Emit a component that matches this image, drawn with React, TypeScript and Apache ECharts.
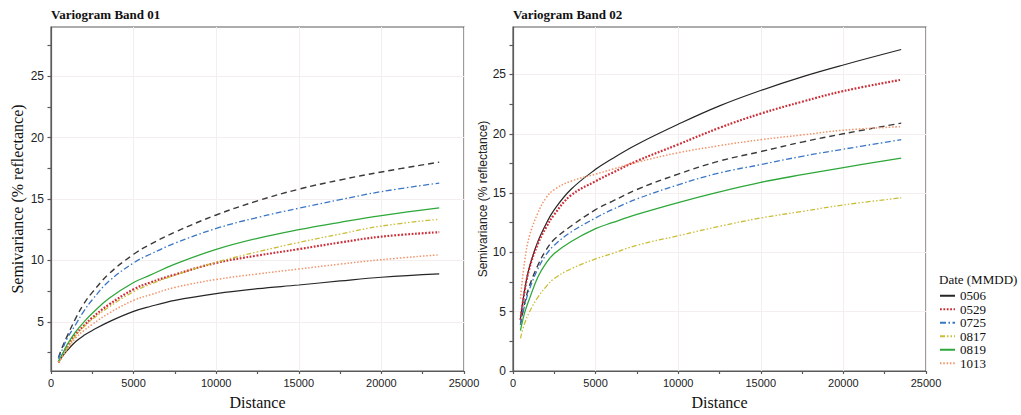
import { useEffect, useRef } from 'react';
import * as echarts from 'echarts';

// Lag distances (x values)
const distances = [450, 700, 1000, 1500, 2000, 2500, 3500, 5000, 6000, 7500, 10000, 12500, 15000, 17500, 20000, 23500];

// Legend (dates, MMDD)
const dateNames = ['0506', '0529', '0725', '0817', '0819', '1013'];
const unlabelledName = 'unlabelled';

// Band 01 semivariance values
const b01_0506 = [1.7, 2.2, 2.7, 3.4, 3.9, 4.3, 5.0, 5.85, 6.25, 6.75, 7.3, 7.7, 8.0, 8.33, 8.63, 8.9];
const b01_0529 = [1.7, 2.3, 3.0, 4.0, 4.7, 5.35, 6.4, 7.65, 8.2, 8.85, 9.8, 10.4, 10.92, 11.46, 11.94, 12.3];
const b01_0725 = [2.0, 2.8, 3.7, 4.8, 5.9, 6.8, 8.3, 9.8, 10.5, 11.4, 12.6, 13.5, 14.25, 14.95, 15.6, 16.3];
const b01_0817 = [1.7, 2.25, 2.9, 3.9, 4.6, 5.2, 6.2, 7.45, 8.05, 8.8, 9.85, 10.7, 11.46, 12.15, 12.8, 13.35];
const b01_0819 = [1.8, 2.4, 3.2, 4.2, 5.0, 5.7, 6.9, 8.2, 8.8, 9.7, 10.9, 11.8, 12.5, 13.1, 13.65, 14.28];
const b01_1013 = [1.7, 2.2, 2.8, 3.7, 4.3, 4.8, 5.7, 6.75, 7.2, 7.8, 8.45, 8.9, 9.3, 9.7, 10.06, 10.46];
const b01_unlabelled = [2.1, 3.0, 3.9, 5.3, 6.5, 7.4, 8.9, 10.5, 11.3, 12.3, 13.7, 14.85, 15.8, 16.55, 17.2, 18.0];

// Band 02 semivariance values
const b02_0506 = [4.4, 6.8, 8.8, 10.9, 12.4, 13.6, 15.3, 17.0, 17.9, 19.1, 20.8, 22.35, 23.65, 24.8, 25.8, 27.1];
const b02_0529 = [4.3, 6.7, 8.7, 10.7, 12.1, 13.2, 14.8, 16.0, 16.7, 17.7, 19.1, 20.5, 21.7, 22.7, 23.6, 24.55];
const b02_0725 = [3.9, 5.5, 6.9, 8.6, 9.8, 10.6, 11.7, 12.9, 13.6, 14.5, 15.7, 16.7, 17.4, 18.1, 18.7, 19.5];
const b02_0817 = [2.75, 4.0, 5.0, 6.2, 7.1, 7.8, 8.6, 9.45, 9.9, 10.6, 11.4, 12.2, 12.9, 13.45, 14.0, 14.6];
const b02_0819 = [3.4, 4.9, 6.1, 7.9, 9.1, 9.9, 10.9, 12.0, 12.5, 13.2, 14.2, 15.1, 15.9, 16.55, 17.15, 17.95];
const b02_1013 = [6.1, 9.2, 11.4, 13.3, 14.6, 15.3, 16.0, 16.6, 17.0, 17.6, 18.4, 19.0, 19.5, 19.9, 20.3, 20.6];
const b02_unlabelled = [3.9, 5.7, 7.2, 8.9, 10.2, 11.1, 12.2, 13.6, 14.3, 15.3, 16.6, 17.7, 18.5, 19.3, 20.0, 20.9];

// Axis ticks
const yLabels01 = [5, 10, 15, 20, 25];
const yTicks01 = [2.5, 5, 7.5, 10, 12.5, 15, 17.5, 20, 22.5, 25, 27.5];
const yLabels02 = [0, 5, 10, 15, 20, 25];
const yTicks02 = [0, 2.5, 5, 7.5, 10, 12.5, 15, 17.5, 20, 22.5, 25, 27.5];

const panelTitles = ['Variogram Band 01', 'Variogram Band 02'];

const SERIF = 'Liberation Serif, Times New Roman, serif';
const SANS = 'Liberation Sans, Arial, sans-serif';

const lineStyles: Record<string, any> = {
  '0506': { color: '#262626', type: 'solid', width: 1.2 },
  '0529': { color: '#cc2e38', type: [1.8, 1.6], width: 2.2 },
  '0725': { color: '#3a76c6', type: [6, 2.5, 1.5, 2.5], width: 1.3 },
  '0817': { color: '#cabd38', type: [5, 2, 1.5, 2, 1.5, 2], width: 1.3 },
  '0819': { color: '#2ea83a', type: 'solid', width: 1.3 },
  '1013': { color: '#f1946a', type: [1.5, 1.8], width: 1.5 },
  unlabelled: { color: '#3a3a3a', type: [6, 4], width: 1.4 },
};

const panels = [
  {
    unlabelled: b01_unlabelled,
    values: { '0506': b01_0506, '0529': b01_0529, '0725': b01_0725, '0817': b01_0817, '0819': b01_0819, '1013': b01_1013 } as Record<string, number[]>,
  },
  {
    unlabelled: b02_unlabelled,
    values: { '0506': b02_0506, '0529': b02_0529, '0725': b02_0725, '0817': b02_0817, '0819': b02_0819, '1013': b02_1013 } as Record<string, number[]>,
  },
];

const zip = (vals: number[]) => distances.map((d, i) => [d, vals[i]]);

export default function App() {
  const ref = useRef<HTMLDivElement>(null);
  useEffect(() => {
    if (!ref.current) return;
    const chart = echarts.init(ref.current, undefined, { renderer: 'svg' });

    const axisLineStyle = { color: '#5a5a5a', width: 1.2 };

    const xAxis = [0, 1].map((g) => ({
      type: 'value',
      gridIndex: g,
      min: 0,
      max: 25000,
      interval: 5000,
      name: 'Distance',
      nameLocation: 'middle',
      nameGap: 23,
      nameTextStyle: { fontFamily: SERIF, fontSize: 16, color: '#111' },
      axisLine: { show: true, lineStyle: axisLineStyle },
      axisTick: { show: true, length: 3, lineStyle: axisLineStyle },
      minorTick: { show: true, splitNumber: 2, length: 3, lineStyle: axisLineStyle },
      axisLabel: {
        fontFamily: SANS,
        fontSize: 11,
        color: '#222',
        margin: 6,
        formatter: (v: number) => String(Math.round(v)),
      },
      splitLine: { show: true, lineStyle: { color: '#f4eeee', width: 1 } },
    }));

    const mainY = (g: number, min: number, labels: number[], ticks: number[], nameStyle: any, nameGap: number) => ({
      type: 'value',
      gridIndex: g,
      min,
      max: 29,
      position: 'left',
      name: 'Semivariance (% reflectance)',
      nameLocation: 'middle',
      nameGap,
      nameTextStyle: nameStyle,
      axisLine: { show: true, lineStyle: axisLineStyle },
      axisTick: { show: true, length: 3.5, lineStyle: axisLineStyle, customValues: ticks },
      axisLabel: {
        fontFamily: SANS,
        fontSize: 12,
        color: '#222',
        margin: 7,
        customValues: labels,
        formatter: (v: number) => String(Math.round(v)),
      },
      splitLine: { show: false },
    });
    const overlayY = (g: number, min: number, labels: number[]) => ({
      type: 'value',
      gridIndex: g,
      min,
      max: 29,
      position: 'left',
      axisLine: { show: false },
      axisTick: { show: false, customValues: labels },
      axisLabel: { show: false },
      splitLine: { show: true, lineStyle: { color: '#f4eeee', width: 1 } },
    });

    const yAxis = [
      mainY(0, 1, yLabels01, yTicks01, { fontFamily: SERIF, fontSize: 16, color: '#111' }, 26),
      overlayY(0, 1, yLabels01),
      mainY(1, 0, yLabels02, yTicks02, { fontFamily: SANS, fontSize: 12, color: '#222' }, 22),
      overlayY(1, 0, yLabels02),
    ];

    const series: any[] = [];
    panels.forEach((p, pi) => {
      const yIdx = pi === 0 ? 0 : 2;
      series.push({
        name: unlabelledName,
        type: 'line',
        xAxisIndex: pi,
        yAxisIndex: yIdx,
        data: zip(p.unlabelled),
        symbol: 'none',
        smooth: 0.4,
        lineStyle: lineStyles.unlabelled,
        itemStyle: { color: lineStyles.unlabelled.color },
      });
      dateNames.forEach((n) => {
        series.push({
          name: n,
          type: 'line',
          xAxisIndex: pi,
          yAxisIndex: yIdx,
          data: zip(p.values[n]),
          symbol: 'none',
          smooth: 0.4,
          lineStyle: lineStyles[n],
          itemStyle: { color: lineStyles[n].color },
        });
      });
    });

    chart.setOption({
      animation: false,
      backgroundColor: '#ffffff',
      title: [
        { text: panelTitles[0], left: 51, top: 8, padding: 0, textStyle: { fontFamily: SERIF, fontWeight: 'bold', fontSize: 13, color: '#111' } },
        { text: panelTitles[1], left: 513, top: 8, padding: 0, textStyle: { fontFamily: SERIF, fontWeight: 'bold', fontSize: 13, color: '#111' } },
        { text: 'Date (MMDD)', left: 939, top: 273, padding: 0, textStyle: { fontFamily: SERIF, fontWeight: 'normal', fontSize: 13, color: '#111' } },
      ],
      legend: {
        data: dateNames,
        orient: 'vertical',
        left: 939,
        top: 289,
        padding: 0,
        itemWidth: 15,
        itemHeight: 8,
        itemGap: 0,
        itemStyle: { opacity: 0, borderWidth: 0 },
        textStyle: { fontFamily: SERIF, fontSize: 13, lineHeight: 13.5, color: '#111' },
        selectedMode: false,
      },
      grid: [
        { left: 51, top: 27, width: 413, height: 346, show: true, borderColor: '#5a5a5a', borderWidth: 1.2, backgroundColor: 'transparent' },
        { left: 513, top: 27, width: 413, height: 346, show: true, borderColor: '#5a5a5a', borderWidth: 1.2, backgroundColor: 'transparent' },
      ],
      xAxis,
      yAxis,
      series,
    });

    return () => chart.dispose();
  }, []);

  return <div ref={ref} style={{ position: 'fixed', left: 0, top: 0, width: 1021, height: 415 }} />;
}
